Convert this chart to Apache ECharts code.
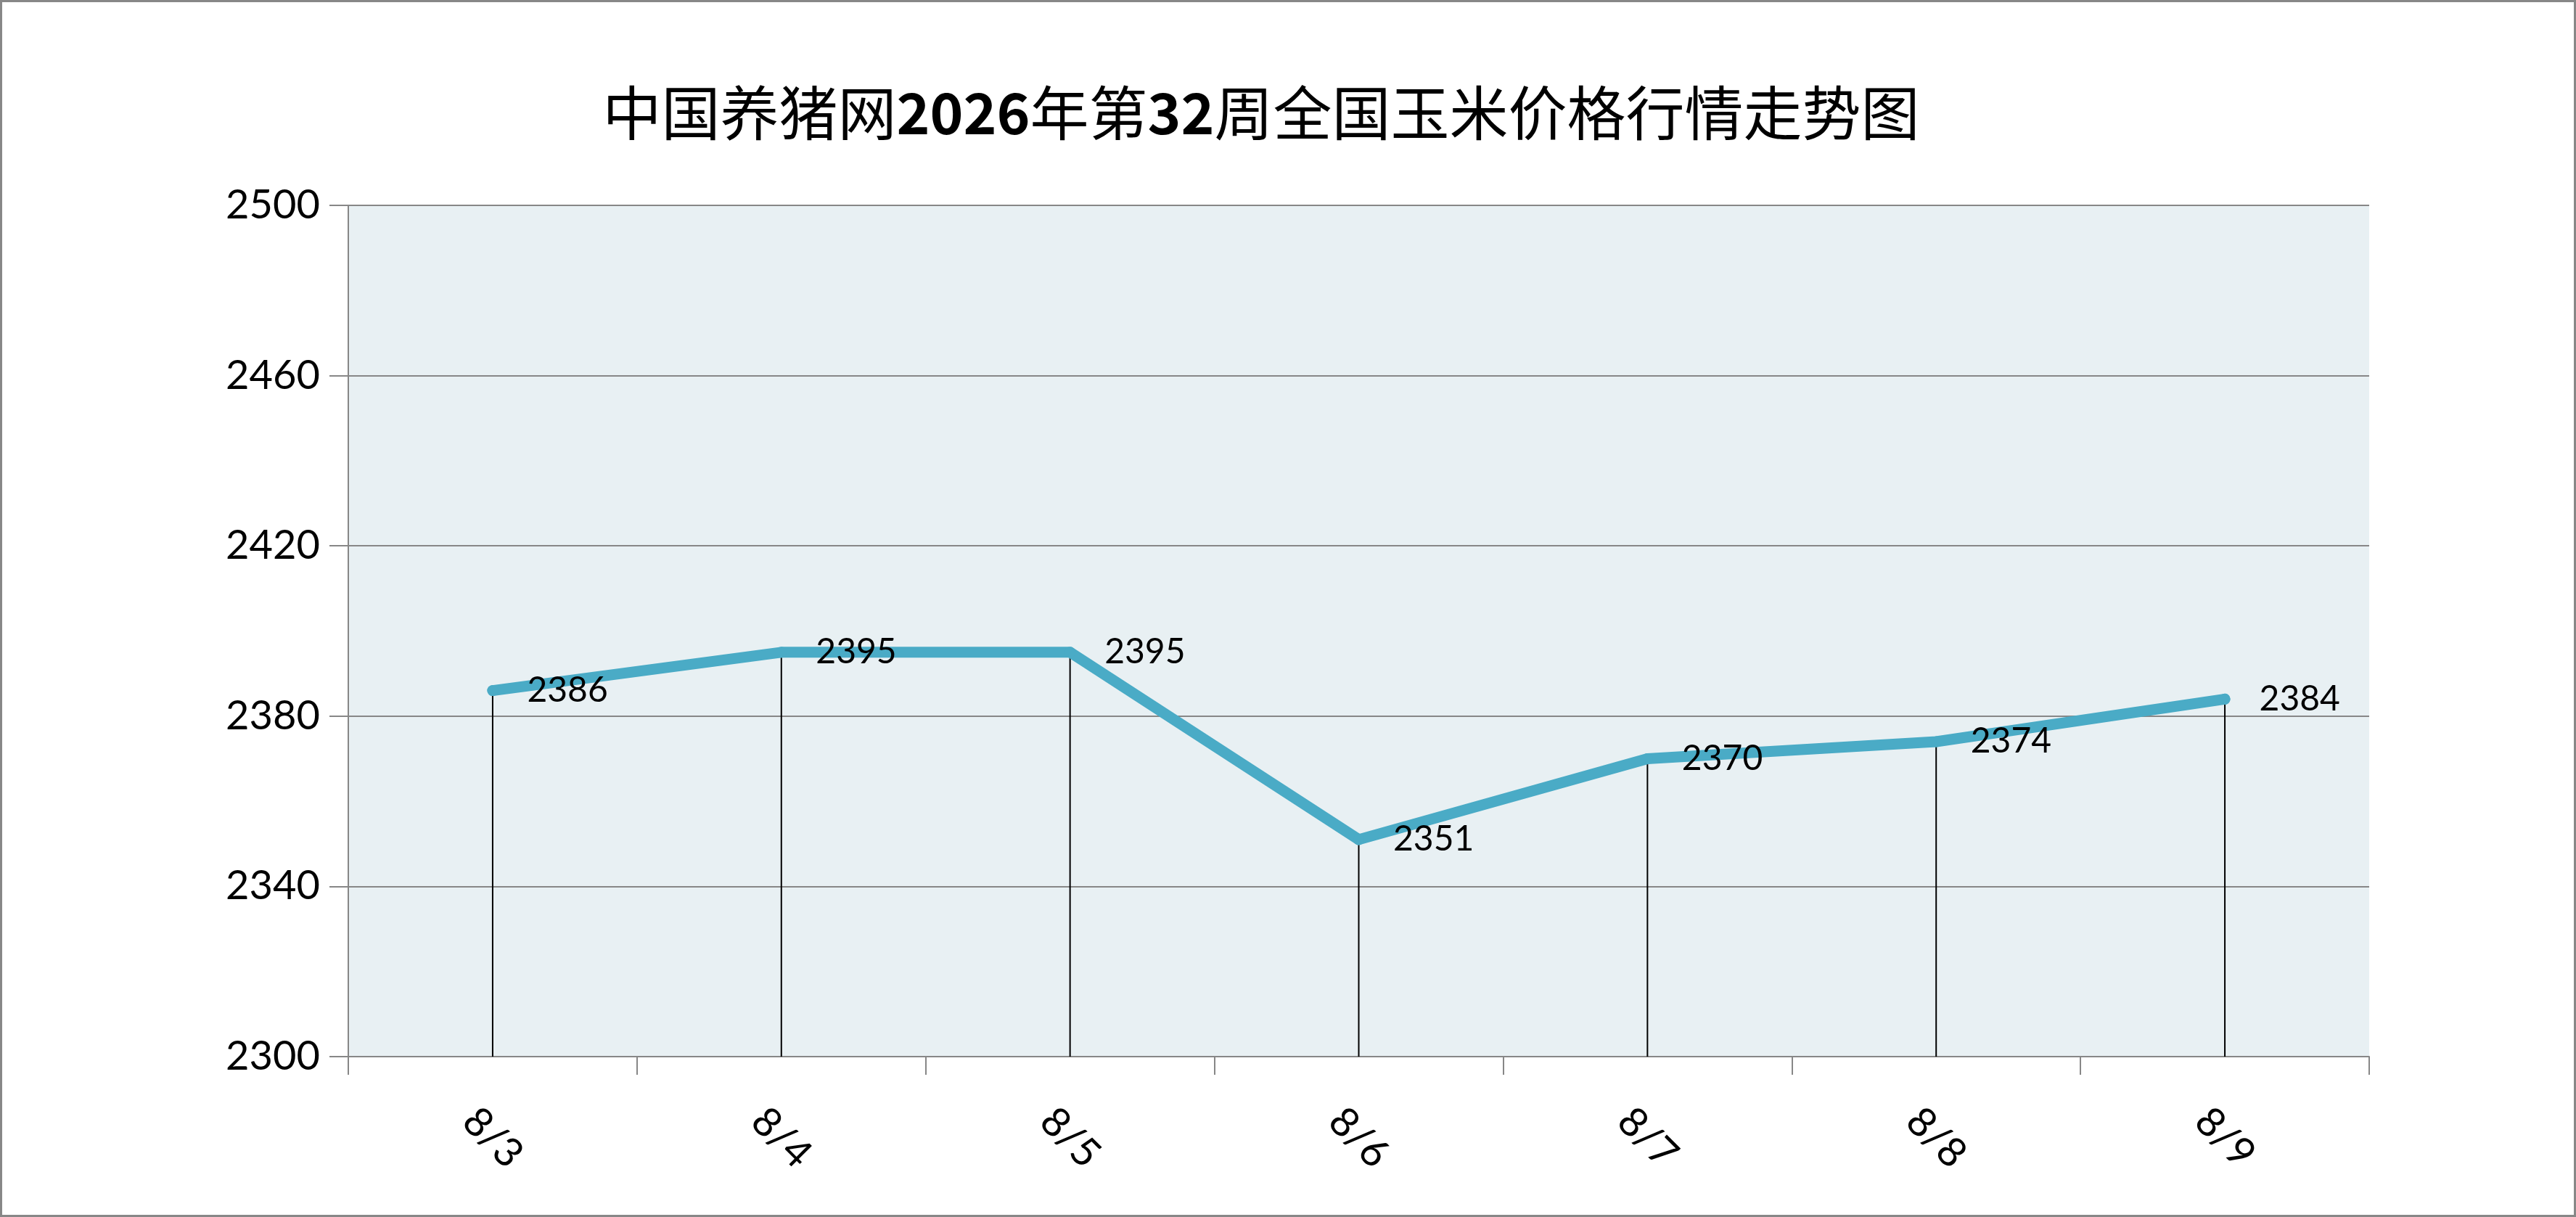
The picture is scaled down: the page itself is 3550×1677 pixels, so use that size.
<!DOCTYPE html>
<html>
<head>
<meta charset="utf-8">
<script src="https://cdn.jsdelivr.net/npm/echarts@6/dist/echarts.min.js"></script>
<style>
html,body{margin:0;padding:0;background:#fff;}
#chart{width:3550px;height:1677px;}
</style>
</head>
<body>
<div id="chart"></div>
<script>
const categories = ['8/3', '8/4', '8/5', '8/6', '8/7', '8/8', '8/9'];
const prices = [2386, 2395, 2395, 2351, 2370, 2374, 2384];
const yMin = 2300;
const yMax = 2500;
const yInterval = 40;

const chart = echarts.init(document.getElementById('chart'));
const gray = '#878787';
const numFont = 'Lato, "Open Sans", sans-serif';

chart.setOption({
  animation: false,
  backgroundColor: '#ffffff',
  title: {
    left: 1733,
    textAlign: 'center',
    top: 110,
    text: '{a|中国养猪网}{b|2026}{a|年第}{b|32}{a|周全国玉米价格行情走势图}',
    textStyle: {
      rich: {
        a: { fontFamily: '"Noto Sans CJK SC", sans-serif', fontSize: 81, fontWeight: 'normal', color: '#000' },
        b: { fontFamily: '"Noto Sans CJK SC", sans-serif', fontSize: 78, fontWeight: 'bold', color: '#000' }
      }
    }
  },
  graphic: [{
    type: 'rect',
    shape: { x: 1.5, y: 1.5, width: 3547, height: 1674 },
    style: { fill: 'none', stroke: gray, lineWidth: 3 },
    silent: true
  }],
  grid: {
    left: 480, right: 285, top: 283, bottom: 221,
    show: true, backgroundColor: '#E8F0F3', borderWidth: 0
  },
  xAxis: {
    type: 'category',
    data: categories,
    boundaryGap: true,
    axisLine: { show: true, lineStyle: { color: gray, width: 2 } },
    axisTick: { show: true, alignWithLabel: false, length: 25, lineStyle: { color: gray, width: 2 } },
    axisLabel: {
      rotate: -45, margin: 112, align: 'center', verticalAlign: 'middle',
      fontFamily: numFont, fontSize: 56, color: '#000'
    },
    splitLine: { show: false }
  },
  yAxis: {
    type: 'value',
    min: yMin, max: yMax, interval: yInterval,
    axisLine: { show: true, lineStyle: { color: gray, width: 2 } },
    axisTick: { show: true, length: 26, lineStyle: { color: gray, width: 2 } },
    axisLabel: { margin: 39, fontFamily: numFont, fontSize: 56, color: '#000', formatter: v => String(v) },
    splitLine: { show: true, lineStyle: { color: gray, width: 2 } }
  },
  series: [
    {
      type: 'bar',
      data: prices,
      barWidth: 2,
      itemStyle: { color: '#000' },
      z: 1,
      silent: true
    },
    {
      type: 'line',
      data: prices,
      symbol: 'circle',
      symbolSize: 15,
      itemStyle: { color: '#4AABC6' },
      lineStyle: { color: '#4AABC6', width: 15, cap: 'round', join: 'round' },
      label: {
        show: true, position: 'right', distance: 40,
        fontFamily: numFont, fontSize: 48, color: '#000'
      },
      z: 3
    }
  ]
});
</script>
</body>
</html>
